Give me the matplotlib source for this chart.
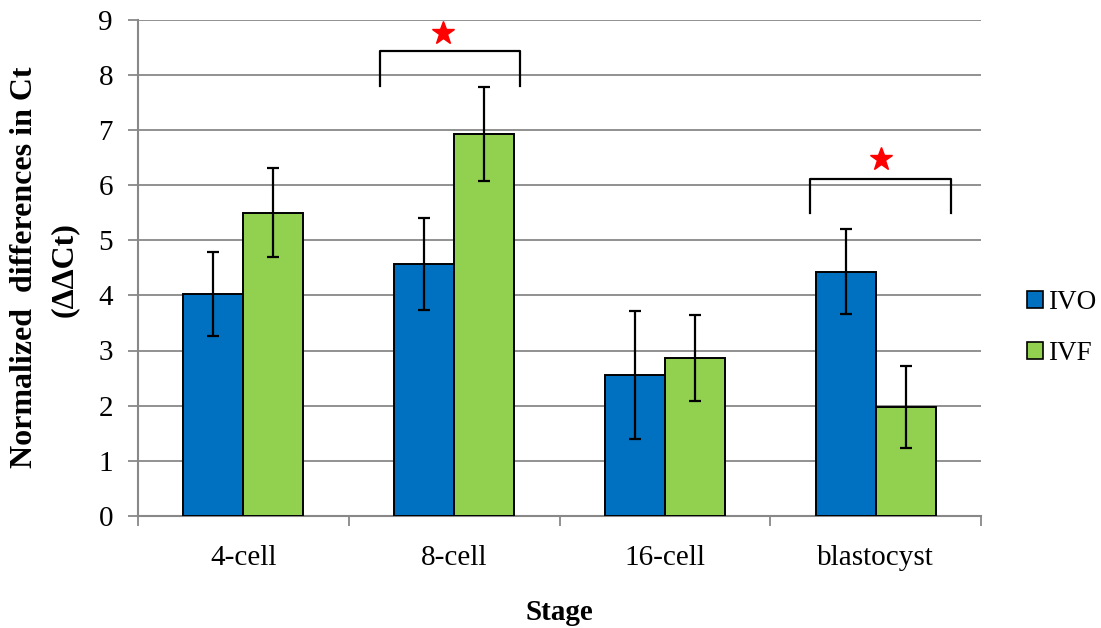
import matplotlib
matplotlib.use("Agg")
import matplotlib.pyplot as plt
import numpy as np

stages = ["4-cell", "8-cell", "16-cell", "blastocyst"]
ivo = [4.02, 4.57, 2.56, 4.43]
ivf = [5.50, 6.93, 2.87, 1.98]
ivo_err = [0.76, 0.83, 1.16, 0.77]
ivf_err = [0.80, 0.85, 0.78, 0.74]

plt.rcParams['font.family'] = ['Liberation Serif', 'DejaVu Serif']

fig = plt.figure(figsize=(11.01, 6.28), dpi=100)
ax = fig.add_axes([138/1101, 1-516/628, (981-138)/1101, (516-19.5)/628])

x = np.arange(len(stages))
w = 0.285
ekw = dict(elinewidth=1.6, capthick=1.6, ecolor='black')
ax.bar(x - w/2, ivo, w, yerr=ivo_err, color='#0070C0', edgecolor='black',
       linewidth=1.4, capsize=4, error_kw=ekw, label='IVO', zorder=3)
ax.bar(x + w/2, ivf, w, yerr=ivf_err, color='#92D050', edgecolor='black',
       linewidth=1.4, capsize=4, error_kw=ekw, label='IVF', zorder=3)

# significance brackets
def bracket(x0, x1, ybar, yleg, xs, ys):
    ax.plot([x0, x0, x1, x1], [yleg, ybar, ybar, yleg], color='black', lw=1.6,
            zorder=4, clip_on=False)
    ax.plot([xs], [ys], marker='*', color='red', markersize=17, mec='red',
            zorder=5, clip_on=False)

bracket(1 - 0.352, 1 + 0.313, 8.42, 7.79, 0.947, 8.75)
bracket(3 - 0.31, 3 + 0.356, 6.11, 5.49, 3.025, 6.48)

ax.set_xlim(-0.5, 3.5)
ax.set_ylim(0, 9)
ax.set_yticks(range(0, 10))
ax.yaxis.grid(True, color='#888888', linewidth=1.3, zorder=0)
ax.set_axisbelow(True)

ax.set_xticks(x)
ax.set_xticklabels(stages, fontsize=21)
ax.set_xticks(np.arange(-0.5, 3.6, 1), minor=True)
ax.tick_params(axis='x', which='major', length=0, pad=21)
ax.tick_params(axis='x', which='minor', length=7, width=1.3, color='#888888', direction='out')
ax.tick_params(axis='y', length=7, width=1.3, color='#888888', labelsize=21, pad=11)

for s in ['top', 'right']:
    ax.spines[s].set_visible(False)
for s in ['left', 'bottom']:
    ax.spines[s].set_color('#888888')
    ax.spines[s].set_linewidth(1.5)

# axis titles
fig.text(25/1101, 1-267/628, "Normalized  differences in Ct", rotation=90,
         fontsize=23, fontweight='bold', ha='center', va='center')
fig.text(64/1101, 1-270/628, "(ΔΔCt)", rotation=90,
         fontsize=23, fontweight='bold', ha='center', va='center')
fig.text(559.5/1101, 1-612/628, "Stage", fontsize=21, fontweight='bold',
         ha='center', va='center')

leg = fig.legend(loc='center left', bbox_to_anchor=(1016/1101, 1-328/628),
                 frameon=False, fontsize=19.5, handlelength=0.6, handleheight=0.6,
                 handletextpad=0.2, labelspacing=0.95, borderaxespad=0)
for p in leg.get_patches():
    p.set_linewidth(1.2)

fig.savefig("out.png", dpi=100)
